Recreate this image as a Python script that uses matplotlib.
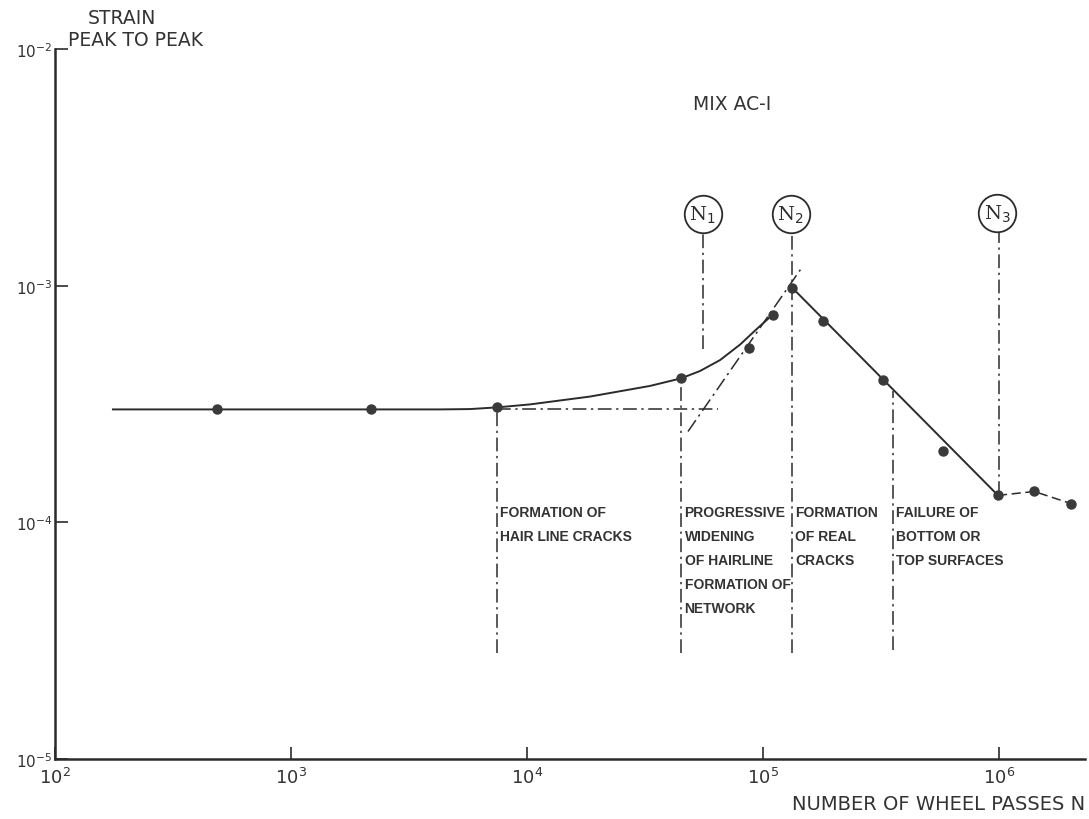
import matplotlib
matplotlib.use("Agg")
import matplotlib.pyplot as plt

# ---- data ----
meas_n = [485, 2180, 7470, 45000, 87300, 110000, 133000, 180000, 322000, 580000, 990000, 1.41e6, 2.02e6]
meas_strain = [3.0e-4, 3.0e-4, 3.06e-4, 4.06e-4, 5.47e-4, 7.55e-4, 9.8e-4, 7.1e-4, 3.98e-4, 2.0e-4, 1.3e-4, 1.35e-4, 1.2e-4]

# smooth rising curve (solid)
curve_n = [176, 4276, 5730, 7470, 10300, 18500, 33200, 45000, 54100, 65800, 80000, 92500, 110000]
curve_strain = [3.0e-4, 3.0e-4, 3.01e-4, 3.06e-4, 3.15e-4, 3.40e-4, 3.77e-4, 4.06e-4,
                4.36e-4, 4.85e-4, 5.64e-4, 6.46e-4, 7.55e-4]

# plateau extension (dash-dot)
plateau_n = [7470, 64400]
plateau_strain = [3.02e-4, 3.02e-4]

# tangent line (dash-dot)
tangent_n = [48100, 147600]
tangent_strain = [2.42e-4, 1.21e-3]

# descending line (solid)
fall_n = [133000, 990000]
fall_strain = [9.8e-4, 1.3e-4]

# tail (dashed)
tail_n = [990000, 1.41e6, 2.02e6]
tail_strain = [1.3e-4, 1.35e-4, 1.2e-4]

# vertical dash-dot markers: (x, y_top, y_bottom)
vlines_x = [7470, 45000, 55700, 133000, 355000, 1.0e6]
vlines_top = [3.06e-4, 4.06e-4, 1.69e-3, 1.66e-3, 3.6e-4, 1.69e-3]
vlines_bot = [2.8e-5, 2.8e-5, 5.42e-4, 2.8e-5, 2.9e-5, 1.3e-4]

# circled labels
circle_n = [55500, 131000, 0.985e6]
circle_y = [2.0e-3, 2.0e-3, 2.03e-3]
circle_labels = ["N$_1$", "N$_2$", "N$_3$"]

# stage descriptions
stage_x = [7650, 46500, 137000, 365000]
stage_text = [
    "FORMATION OF\nHAIR LINE CRACKS",
    "PROGRESSIVE\nWIDENING\nOF HAIRLINE\nFORMATION OF\nNETWORK",
    "FORMATION\nOF REAL\nCRACKS",
    "FAILURE OF\nBOTTOM OR\nTOP SURFACES",
]

xticks = [1e2, 1e3, 1e4, 1e5, 1e6]
xtick_labels = ["$10^2$", "$10^3$", "$10^4$", "$10^5$", "$10^6$"]
yticks = [1e-5, 1e-4, 1e-3, 1e-2]
ytick_labels = ["$10^{-5}$", "$10^{-4}$", "$10^{-3}$", "$10^{-2}$"]

# ---- figure ----
fig = plt.figure(figsize=(10.89, 8.2), dpi=100)
ax = fig.add_axes([55/1089, 60/820, 1030/1089, 710/820])
ax.set_xscale("log")
ax.set_yscale("log")
ax.set_xlim(1e2, 10**(2 + 1030/236))
ax.set_ylim(1e-5, 1e-2)

dash_dot = (0, (9, 3, 1.5, 3))
lc = "#2b2b2b"
tc = "#333333"

ax.plot(curve_n, curve_strain, color=lc, lw=1.4, solid_joinstyle="round")
ax.plot(plateau_n, plateau_strain, color=lc, lw=1.1, linestyle=dash_dot)
ax.plot(tangent_n, tangent_strain, color=lc, lw=1.1, linestyle=dash_dot)
ax.plot(fall_n, fall_strain, color=lc, lw=1.4)
ax.plot(tail_n, tail_strain, color=lc, lw=1.1, linestyle=(0, (6, 3)), clip_on=False)

for x, yt, yb in zip(vlines_x, vlines_top, vlines_bot):
    ax.plot([x, x], [yb, yt], color=lc, lw=1.1, linestyle=dash_dot)

ax.plot(meas_n, meas_strain, "o", color="#3a3a3a", ms=6.5, clip_on=False, zorder=5)

for x, y, lab in zip(circle_n, circle_y, circle_labels):
    ax.plot([x], [y], "o", ms=27, mfc="white", mec=lc, mew=1.3, zorder=6)
    ax.text(x, y, lab, ha="center", va="center", fontsize=14,
            family="DejaVu Serif", color=lc, zorder=7)

for x, t in zip(stage_x, stage_text):
    ax.text(x, 1.18e-4, t, ha="left", va="top", fontsize=10,
            family="Liberation Sans", fontweight="bold",
            linespacing=1.9, color=tc)

ax.text(10**(2 + 638/236), 10**(-1 - 55/237 - 1), "MIX AC-I", ha="left", va="center",
        fontsize=13.5, color=tc)

# axes style
for s in ["top", "right"]:
    ax.spines[s].set_visible(False)
for s in ["left", "bottom"]:
    ax.spines[s].set_linewidth(1.8)
    ax.spines[s].set_color(lc)

ax.set_xticks(xticks)
ax.set_xticklabels(xtick_labels, fontsize=13, color=tc)
ax.set_yticks(yticks)
ax.set_yticklabels(ytick_labels, fontsize=11, color=tc)
ax.minorticks_off()
ax.tick_params(axis="x", direction="in", length=9, width=1.2, pad=6, colors=lc, labelcolor=tc)
ax.tick_params(axis="y", direction="in", length=9, width=1.2, pad=2, colors=lc, labelcolor=tc)

fig.text(88/1089, 1 - 18/820, "STRAIN", ha="left", va="center", fontsize=13.5, color=tc)
fig.text(68/1089, 1 - 40/820, "PEAK TO PEAK", ha="left", va="center", fontsize=13.5, color=tc)
fig.text(1085/1089, 1 - 805/820, "NUMBER OF WHEEL PASSES N", ha="right", va="center",
         fontsize=14, color=tc)

fig.savefig("out.png", dpi=100, facecolor="white")
